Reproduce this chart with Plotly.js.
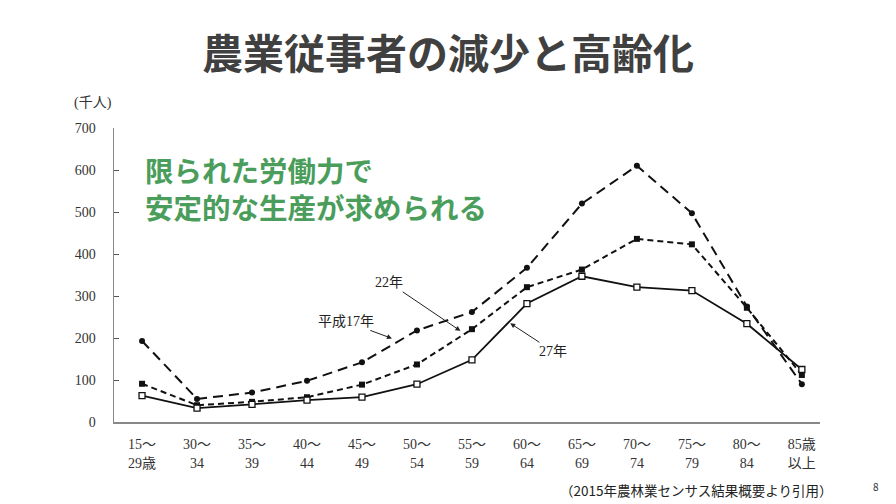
<!DOCTYPE html>
<html>
<head>
<meta charset="utf-8">
<script src="https://cdn.plot.ly/plotly-3.0.1.min.js"></script>
<style>html,body{margin:0;padding:0;background:#fff;}#chart{width:896px;height:504px;}</style>
</head>
<body>
<div id="chart"></div>
<script>
// Age categories (tick labels)
var ageLabels = ["15～<br>29歳","30～<br>34","35～<br>39","40～<br>44","45～<br>49","50～<br>54","55～<br>59","60～<br>64","65～<br>69","70～<br>74","75～<br>79","80～<br>84","85歳<br>以上"];
var categoryIndex = [0,1,2,3,4,5,6,7,8,9,10,11,12];
// Values (thousand persons)
var h17 = [193, 55, 70, 98, 142, 218, 262, 367, 520, 610, 497, 275, 90];
var h22 = [91, 40, 48, 59, 89, 137, 221, 321, 363, 436, 423, 272, 112];
var h27 = [63, 33, 42, 52, 59, 90, 148, 282, 347, 321, 313, 234, 125];
var yTicks = [0,100,200,300,400,500,600,700];

var serif = "Liberation Serif, Times New Roman, Noto Sans CJK JP, serif";
var sansJP = "Noto Sans CJK JP, sans-serif";

var traces = [
  {x: categoryIndex, y: h17, name: "平成17年", type: "scatter", mode: "lines+markers",
   line: {color: "#111", width: 2, dash: "10px,6px"},
   marker: {symbol: "circle", size: 6, color: "#111"}},
  {x: categoryIndex, y: h22, name: "22年", type: "scatter", mode: "lines+markers",
   line: {color: "#111", width: 2, dash: "6px,4px"},
   marker: {symbol: "square", size: 6, color: "#111"}},
  {x: categoryIndex, y: h27, name: "27年", type: "scatter", mode: "lines+markers",
   line: {color: "#111", width: 1.8},
   marker: {symbol: "square", size: 6, color: "#fff", line: {color: "#111", width: 1.3}}}
];

var layout = {
  width: 896, height: 504,
  margin: {l: 114, r: 76, t: 128, b: 82},
  paper_bgcolor: "#fff", plot_bgcolor: "#fff",
  showlegend: false,
  title: {text: "<b>農業従事者の減少と高齢化</b>", font: {family: sansJP, size: 41, color: "#404040"},
          x: 448 / 896, xref: "container", xanchor: "center", y: 1 - 55 / 504, yref: "container", yanchor: "middle"},
  xaxis: {range: [-0.51, 12.33], tickmode: "array", tickvals: categoryIndex, ticktext: ageLabels,
          showgrid: false, zeroline: false, showline: true, linecolor: "#888", linewidth: 1.5,
          ticks: "", ticklabelstandoff: 9, tickfont: {family: serif, size: 14, color: "#333"}, fixedrange: true},
  yaxis: {range: [0, 700], tickmode: "array", tickvals: yTicks, showgrid: false, zeroline: false,
          showline: true, linecolor: "#888", linewidth: 1.5, ticks: "inside", ticklen: 5,
          tickcolor: "#555", tickwidth: 1, ticklabelstandoff: 14,
          tickfont: {family: serif, size: 14, color: "#333"}, fixedrange: true},
  annotations: [
    {text: "(千人)", xref: "paper", yref: "paper", x: (93 - 114) / 706, y: (422 - 103) / 294,
     xanchor: "center", yanchor: "middle", showarrow: false, font: {family: serif, size: 14, color: "#333"}},
    {text: "<b>限られた労働力で</b>", xref: "paper", yref: "paper", x: (143 - 114) / 706, y: (422 - 169) / 294,
     xanchor: "left", yanchor: "middle", showarrow: false, font: {family: sansJP, size: 28.5, color: "#4a9d5b"}},
    {text: "<b>安定的な生産が求められる</b>", xref: "paper", yref: "paper", x: (143 - 114) / 706, y: (422 - 206) / 294,
     xanchor: "left", yanchor: "middle", showarrow: false, font: {family: sansJP, size: 28.5, color: "#4a9d5b"}},
    {text: "22年", x: 5.79, y: 217, xref: "x", yref: "y", showarrow: true, arrowhead: 2, arrowsize: 1,
     arrowwidth: 1, arrowcolor: "#222", ax: -71, ay: -48, font: {family: serif, size: 14, color: "#222"}},
    {text: "平成17年", x: 4.545, y: 199, xref: "x", yref: "y", showarrow: true, arrowhead: 2, arrowsize: 1,
     arrowwidth: 1, arrowcolor: "#222", ax: -46, ay: -17, font: {family: serif, size: 14, color: "#222"}},
    {text: "27年", x: 6.696, y: 235, xref: "x", yref: "y", showarrow: true, arrowhead: 2, arrowsize: 1,
     arrowwidth: 1, arrowcolor: "#222", ax: 43, ay: 28, font: {family: serif, size: 14, color: "#222"}},
    {text: "（2015年農林業センサス結果概要より引用）", xref: "paper", yref: "paper",
     x: (696 - 114) / 706, y: (422 - 490) / 294, xanchor: "center", yanchor: "middle", showarrow: false,
     font: {family: sansJP, size: 13.5, color: "#222"}},
    {text: "8", xref: "paper", yref: "paper", x: (876 - 114) / 706, y: (422 - 486) / 294,
     xanchor: "center", yanchor: "middle", showarrow: false, font: {family: sansJP, size: 10, color: "#333"}}
  ]
};

Plotly.newPlot("chart", traces, layout, {displayModeBar: false, staticPlot: true});
</script>
</body>
</html>
